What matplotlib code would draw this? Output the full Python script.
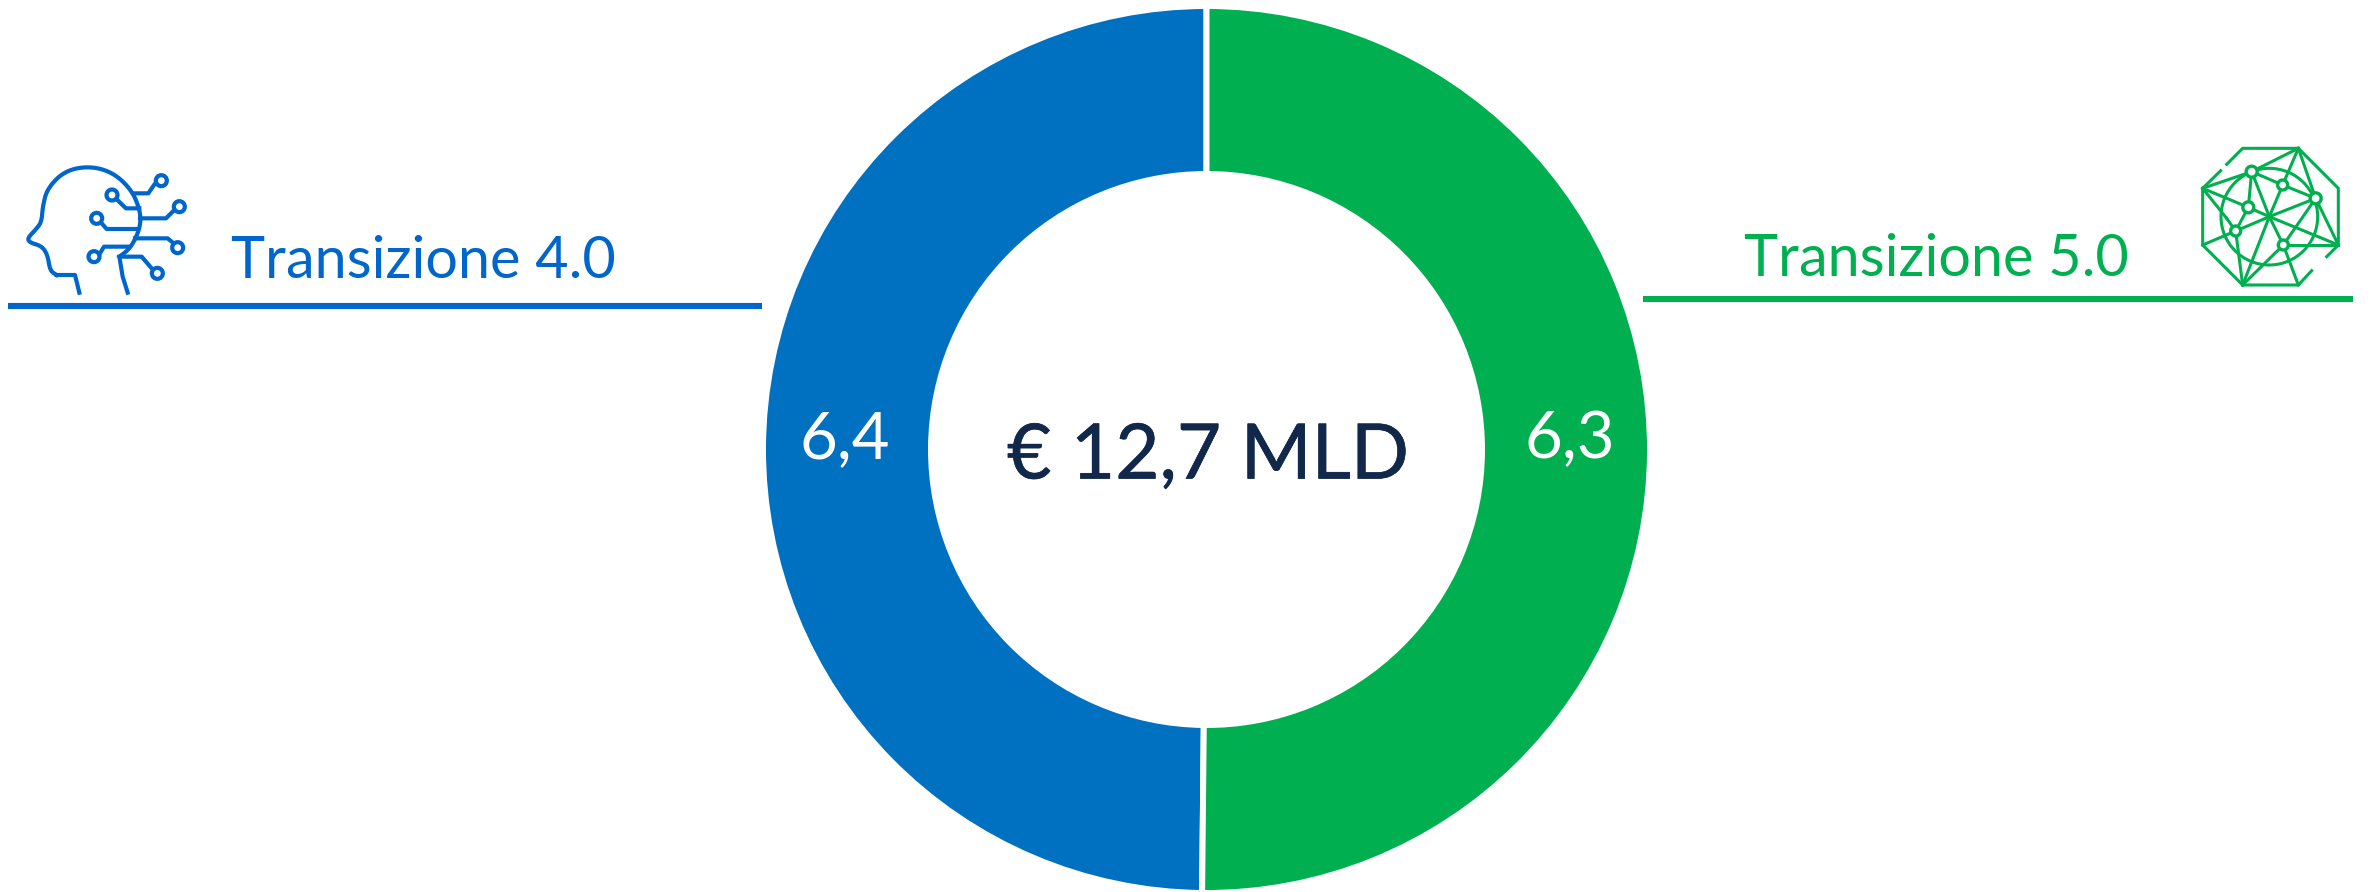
import matplotlib
matplotlib.use("Agg")
import matplotlib.pyplot as plt
import matplotlib.patheffects as pe
from matplotlib.patches import Circle

# ---- data ----
categories = ["Transizione 4.0", "Transizione 5.0"]
# Printed labels, as shown on the chart
value_labels = ["6,4", "6,3"]
slice_values = [6.33, 6.37]
total_label = "€ 12,7 MLD"

BLUE = "#0070C0"
BLUE_HEAD = "#0066CC"
GREEN = "#00B050"
NAVY = "#12284B"
FONT = "Lato"

W, H = 2372, 892
fig = plt.figure(figsize=(W / 100, H / 100), dpi=100, facecolor="white")

# ---- donut ----
ax = fig.add_axes([0, 0, 1, 1])
cx, cy, R_out, R_in = 1206.5, H - 449.5, 443.5, 275.5
ax.pie(slice_values, colors=[BLUE, GREEN], startangle=90, counterclock=True,
       center=(cx, cy), radius=R_out, frame=True,
       wedgeprops=dict(width=R_out - R_in, edgecolor="white", linewidth=4.3))
ax.set_xlim(0, W)
ax.set_ylim(0, H)
ax.set_aspect("equal")
ax.axis("off")

# ---- overlay in image pixels ----
ov = fig.add_axes([0, 0, 1, 1], facecolor="none")
ov.set_xlim(0, W)
ov.set_ylim(H, 0)
ov.axis("off")

ov.text(1208, 450.5, total_label, color=NAVY, fontsize=55, family=FONT,
        ha="center", va="center_baseline",
        path_effects=[pe.withStroke(linewidth=0.5, foreground=NAVY)])
ov.text(845, 458, value_labels[0], color="white", fontsize=47, family=FONT,
        ha="center", va="baseline")
ov.text(1570, 458, value_labels[1], color="white", fontsize=47, family=FONT,
        ha="center", va="baseline")

ov.text(231, 278, categories[0], color=BLUE_HEAD, fontsize=41.5, family=FONT,
        ha="left", va="baseline")
ov.text(2129, 276, categories[1], color=GREEN, fontsize=41.5, family=FONT,
        ha="right", va="baseline")

ov.plot([8, 762], [305.7, 305.7], color=BLUE_HEAD, lw=4.4, solid_capstyle="butt")
ov.plot([1643, 2353], [299.3, 299.3], color=GREEN, lw=4.4, solid_capstyle="butt")


# ---- head icon (decoration) ----
def p1(pts):
    return [x / 3 for x, y in pts], [140 + y / 3 for x, y in pts]


def chaikin(pts, n=3):
    for _ in range(n):
        out = [pts[0]]
        for a, b in zip(pts[:-1], pts[1:]):
            out.append((0.75 * a[0] + 0.25 * b[0], 0.75 * a[1] + 0.25 * b[1]))
            out.append((0.25 * a[0] + 0.75 * b[0], 0.25 * a[1] + 0.75 * b[1]))
        out.append(pts[-1])
        pts = out
    return pts


neck_back = [(238, 458), (225, 405), (170, 405)]
face = [(170, 405), (150, 392), (143, 345), (125, 318), (90, 308), (82, 295),
        (108, 268), (125, 245), (128, 200), (142, 145), (195, 92), (270, 78),
        (340, 98), (395, 150), (420, 210), (422, 255), (405, 300), (385, 330),
        (358, 350)]
neck_front = [(358, 350), (368, 410), (383, 458)]
head_kw = dict(color=BLUE_HEAD, lw=3.0, solid_joinstyle="round")
ov.plot(*p1(neck_back), **head_kw)
ov.plot(*p1(chaikin(face)), **head_kw)
ov.plot(*p1(neck_front), **head_kw)
branches = [
    ((484, 122), [(462, 135), (445, 160), (405, 160)]),
    ((336, 165), [(352, 180), (378, 205), (418, 205)]),
    ((538, 200), [(518, 215), (498, 235), (420, 235)]),
    ((290, 235), [(305, 250), (320, 267), (410, 267)]),
    ((533, 323), [(515, 305), (503, 295), (405, 295)]),
    ((282, 350), [(300, 340), (312, 320), (385, 320)]),
    ((472, 400), [(455, 385), (425, 350), (365, 350)]),
]
for node, line in branches:
    ov.plot(*p1(line), **head_kw)
    ov.add_patch(Circle((node[0] / 3, 140 + node[1] / 3), 5.5, fc="white",
                        ec=BLUE_HEAD, lw=3.0))


# ---- network globe icon (decoration) ----
def p2(pts):
    return [1880 + x / 3 for x, y in pts], [130 + y / 3 for x, y in pts]


A, B, C, D = (1040, 103), (1088, 55), (1255, 55), (1375, 175)
E, F, G, Hh = (1375, 345), (1340, 380), (1295, 422), (1255, 465)
I, J, K, L = (1088, 465), (968, 345), (968, 175), (1022, 122)
Z = (1168, 260)
n1, n2, n3 = (1115, 125), (1208, 165), (1307, 205)
n4, n5, n6 = (1105, 232), (1067, 303), (1210, 345)
kw = dict(color=GREEN, lw=2.2, solid_joinstyle="miter")
ov.plot(*p2([A, B, C, D, E, F]), **kw)
ov.plot(*p2([G, Hh, I, J, K, L]), **kw)
ov.add_patch(Circle((1880 + Z[0] / 3, 130 + Z[1] / 3), 145 / 3, fc="none", ec=GREEN, lw=2.2))
edges = [(K, n1), (n1, C), (K, n4), (K, (1040, 265)), ((1040, 265), n5), (n1, n2),
         (n2, n3), (n2, C), (n3, C), (n1, n4), (n4, n5), (n1, Z), (n2, Z), (n3, Z),
         (n4, Z), (n5, Z), (n6, Z), (Z, I), (Z, E), (n3, n6), (n3, E), (n6, E),
         (n6, Hh), (n6, I), (n5, I), (n5, J)]
for a, b in edges:
    ov.plot(*p2([a, b]), **kw)
for n, r in [(n1, 5.5), (n2, 5), (n3, 5.5), (n4, 5.5), (n5, 5), (n6, 5)]:
    ov.add_patch(Circle((1880 + n[0] / 3, 130 + n[1] / 3), r, fc="white", ec=GREEN, lw=2.4, zorder=5))

fig.savefig("out.png", dpi=100, facecolor="white")
